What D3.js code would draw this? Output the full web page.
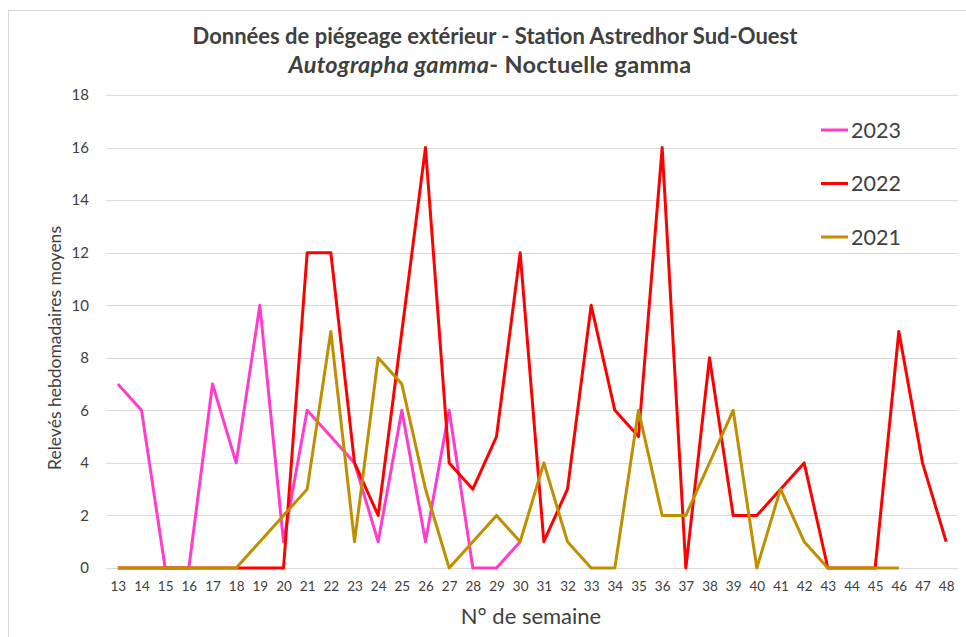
<!DOCTYPE html>
<html>
<head>
<meta charset="utf-8">
<script src="https://cdn.jsdelivr.net/npm/d3@7"></script>
<style>
  body { margin: 0; background: #fff; }
  text { font-family: Lato, "Open Sans", sans-serif; fill: #404040; }
</style>
</head>
<body>
<div id="chart"></div>
<script>
const width = 966;
const height = 637;

// semaines 13 -> 48
const weeks = d3.range(13, 49);

// relevés hebdomadaires moyens (null = pas de relevé)
const values2023 = [7, 6, 0, 0, 7, 4, 10, 1, 6, 5, 4, 1, 6, 1, 6, 0, 0, 1];
const values2022 = [0, 0, 0, 0, 0, 0, 0, 0, 12, 12, 4, 2, 9, 16, 4, 3, 5, 12,
  1, 3, 10, 6, 5, 16, 0, 8, 2, 2, 3, 4, 0, 0, 0, 9, 4, 1];
const values2021 = [0, 0, 0, 0, 0, 0, 1, 2, 3, 9, 1, 8, 7, 3, 0, 1, 2, 1,
  4, 1, 0, 0, 6, 2, 2, 4, 6, 0, 3, 1, 0, 0, 0, 0];

const yTicks = [0, 2, 4, 6, 8, 10, 12, 14, 16, 18];

const series = [
  { name: "2023", values: values2023, color: "#ff3ccc" },
  { name: "2022", values: values2022, color: "#ff0000" },
  { name: "2021", values: values2021, color: "#bf8f00" }
];

const svg = d3.select("#chart")
  .append("svg")
  .attr("width", width)
  .attr("height", height);

// cadre du graphique
svg.append("rect")
  .attr("x", 8.5).attr("y", 10.5)
  .attr("width", width + 20).attr("height", height + 20)
  .attr("fill", "none")
  .attr("stroke", "#d9d9d9");

const x = d3.scalePoint()
  .domain(weeks)
  .range([106, 958])
  .padding(0.5);

const y = d3.scaleLinear()
  .domain([0, 18])
  .range([568, 95]);

// grille horizontale
svg.append("g")
  .selectAll("line")
  .data(yTicks)
  .enter()
  .append("line")
  .attr("x1", 106)
  .attr("x2", 958)
  .attr("y1", d => Math.round(y(d)) + 0.5)
  .attr("y2", d => Math.round(y(d)) + 0.5)
  .attr("stroke", "#d9d9d9")
  .attr("stroke-width", 1);

// axe Y
const yAxis = d3.axisLeft(y).tickValues(yTicks).tickSize(0).tickPadding(17);
svg.append("g")
  .attr("transform", "translate(106,0)")
  .call(yAxis)
  .call(g => g.select(".domain").remove())
  .call(g => g.selectAll("text")
    .style("font-family", "Lato, sans-serif")
    .style("font-size", "15px")
    .attr("fill", "#404040"));

// axe X
const xAxis = d3.axisBottom(x).tickSize(0).tickPadding(13);
svg.append("g")
  .attr("transform", "translate(0,568)")
  .call(xAxis)
  .call(g => g.select(".domain").remove())
  .call(g => g.selectAll("text")
    .style("font-family", "Lato, sans-serif")
    .style("font-size", "13.5px")
    .attr("fill", "#404040"));

// courbes
const line = d3.line()
  .defined(d => d.v != null)
  .x(d => x(d.week))
  .y(d => y(d.v));

series.forEach(s => {
  const pts = s.values.map((v, i) => ({ week: weeks[i], v: v }));
  svg.append("path")
    .datum(pts)
    .attr("d", line)
    .attr("fill", "none")
    .attr("stroke", s.color)
    .attr("stroke-width", 3)
    .attr("stroke-linejoin", "round");
});

// légende
const legend = svg.append("g").attr("id", "legend");
series.forEach((s, i) => {
  const ly = 130 + i * 53.5;
  legend.append("line")
    .attr("x1", 821).attr("x2", 848)
    .attr("y1", ly).attr("y2", ly)
    .attr("stroke", s.color)
    .attr("stroke-width", 3);
  legend.append("text")
    .attr("x", 851)
    .attr("y", ly)
    .attr("dy", "0.35em")
    .style("font-size", "21.5px")
    .attr("fill", "#222")
    .text(s.name);
});

// titres
svg.append("text")
  .attr("x", 495)
  .attr("y", 44)
  .attr("text-anchor", "middle")
  .style("font-weight", "bold")
  .style("font-size", "22px")
  .attr("fill", "#000")
  .text("Données de piégeage extérieur - Station Astredhor Sud-Ouest");

const t2 = svg.append("text")
  .attr("x", 490)
  .attr("y", 73)
  .attr("text-anchor", "middle")
  .style("font-weight", "bold")
  .style("font-size", "23.5px")
  .style("letter-spacing", "0.3px")
  .attr("fill", "#000");
t2.append("tspan").style("font-style", "italic").text("Autographa gamma");
t2.append("tspan").text("- Noctuelle gamma");

svg.append("text")
  .attr("x", 531)
  .attr("y", 624)
  .attr("text-anchor", "middle")
  .style("font-size", "22px")
  .attr("fill", "#262626")
  .text("N° de semaine");

svg.append("text")
  .attr("transform", "translate(61,348) rotate(-90)")
  .attr("text-anchor", "middle")
  .style("font-size", "17.5px")
  .attr("fill", "#262626")
  .text("Relevés hebdomadaires  moyens");
</script>
</body>
</html>
